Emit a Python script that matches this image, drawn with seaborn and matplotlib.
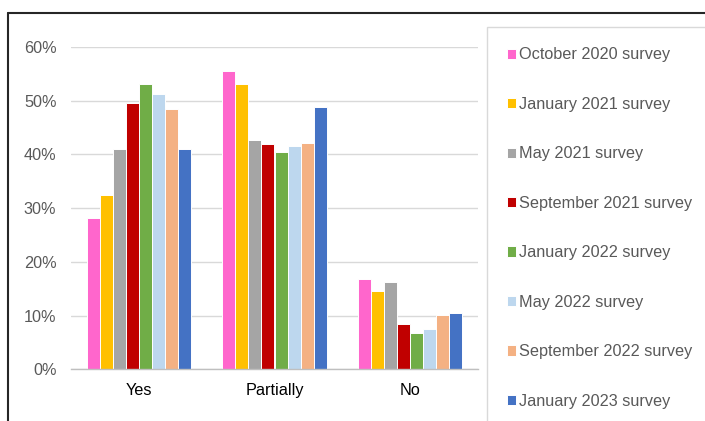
import numpy as np
import pandas as pd
import matplotlib
matplotlib.use("Agg")
import matplotlib.pyplot as plt
from matplotlib.patches import Rectangle
from matplotlib.lines import Line2D
from matplotlib.ticker import FuncFormatter
import seaborn as sns

# ---------- Data ----------
answers = ["Yes", "Partially", "No"]
surveys = [
    "October 2020 survey",
    "January 2021 survey",
    "May 2021 survey",
    "September 2021 survey",
    "January 2022 survey",
    "May 2022 survey",
    "September 2022 survey",
    "January 2023 survey",
]
yes_pct = [28.1, 32.5, 41.1, 49.6, 53.1, 51.3, 48.5, 41.1]
partially_pct = [55.5, 53.1, 42.7, 42.0, 40.4, 41.6, 42.2, 48.8]
no_pct = [16.8, 14.5, 16.3, 8.4, 6.8, 7.5, 10.2, 10.5]

colors = ["#FF66CC", "#FFC000", "#A5A5A5", "#C00000",
          "#70AD47", "#BDD7EE", "#F4B183", "#4472C4"]

rows = []
for answer, vals in zip(answers, [yes_pct, partially_pct, no_pct]):
    for survey, v in zip(surveys, vals):
        rows.append({"answer": answer, "survey": survey, "pct": v})
df = pd.DataFrame(rows)

# ---------- Style ----------
sns.set_theme(style="white")
plt.rcParams["font.family"] = ["Liberation Sans", "DejaVu Sans"]
text_col = "#595959"

W, H = 705, 421
fig = plt.figure(figsize=(W / 100, H / 100), dpi=100)
ax = fig.add_axes([71 / W, 1 - 369.3 / H, (478 - 71) / W, (369.3 - 47) / H])

sns.barplot(
    data=df, x="answer", y="pct", hue="survey",
    order=answers, hue_order=surveys, palette=colors,
    saturation=1, width=0.77, edgecolor="white", linewidth=0.7, ax=ax,
)

handles, labels = ax.get_legend_handles_labels()
ax.get_legend().remove()

ax.set_ylim(0, 60)
ax.set_xlim(-0.5, 2.5)
ax.set_yticks(np.arange(0, 61, 10))
ax.yaxis.set_major_formatter(FuncFormatter(lambda v, _: f"{v:.0f}%"))
ax.set_xlabel("")
ax.set_ylabel("")

ax.grid(axis="y", color="#d9d9d9", linewidth=1)
ax.set_axisbelow(True)
for s in ["top", "left", "right"]:
    ax.spines[s].set_visible(False)
ax.spines["bottom"].set_color("#bfbfbf")
ax.spines["bottom"].set_linewidth(1)

ax.tick_params(axis="y", length=0, pad=10.5, labelsize=11.7, labelcolor=text_col)
ax.tick_params(axis="x", which="major", length=0, pad=10, labelsize=11.7,
               labelcolor="black")
ax.set_xticks([-0.5, 0.5, 1.5, 2.5], minor=True)
ax.tick_params(axis="x", which="minor", length=5, color="#bfbfbf", width=1,
               direction="out")

# ---------- Legend ----------
fig.legend(
    handles, labels, loc="upper left",
    bbox_to_anchor=(506.5 / W, 1 - 47.5 / H), bbox_transform=fig.transFigure,
    frameon=False, fontsize=11.7, labelcolor=text_col,
    handlelength=0.6, handleheight=0.6, handletextpad=0.15,
    labelspacing=2.12, borderpad=0, borderaxespad=0,
)

# legend box and outer frame
fig.add_artist(Rectangle((487 / W, -0.1), 0.5, 1 - 27 / H + 0.1,
                         transform=fig.transFigure, fill=False,
                         edgecolor="#d9d9d9", linewidth=1))
fig.add_artist(Line2D([8 / W, 1.0], [1 - 13 / H, 1 - 13 / H],
                      transform=fig.transFigure, color="#262626", linewidth=1.5))
fig.add_artist(Line2D([8 / W, 8 / W], [0.0, 1 - 13 / H],
                      transform=fig.transFigure, color="#262626", linewidth=1.5))

fig.savefig("out.png", dpi=100)
